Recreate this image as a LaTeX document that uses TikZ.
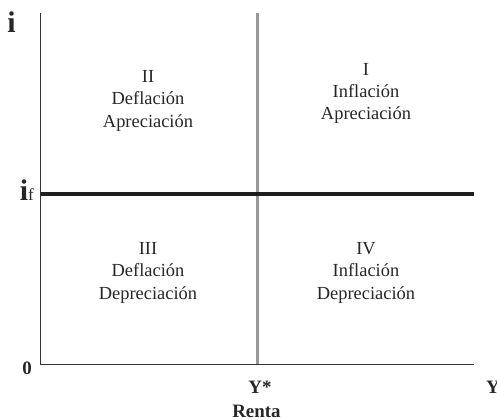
\documentclass[tikz,border=0pt]{standalone}
\usepackage{fontspec}
\setmainfont{Liberation Serif}
\begin{document}
\begin{tikzpicture}[x=1bp,y=-1bp,
  quad/.style={anchor=base,inner sep=0pt,font=\fontsize{18.5}{22}\selectfont,text=black!85},
  lab/.style={inner sep=0pt,font=\fontsize{19}{22}\selectfont\bfseries,text=black!85},
  axis/.style={draw=black!80,line width=1.3bp},
  ystar/.style={draw=black!40,line width=2.7bp},
  ifline/.style={draw=black!88,line width=4bp}]
\useasboundingbox (0,0) rectangle (497,419);
% axes
\coordinate (top) at (40.7,13);
\coordinate (origin) at (40.7,364.5);
\coordinate (xend) at (474,364.5);
\coordinate (vtop) at (257.8,13);
\coordinate (vbot) at (257.8,364.5);
\coordinate (hl) at (40.7,194);
\coordinate (hr) at (474,194);
\draw[ystar] (vtop) -- (vbot);
\draw[ifline] (hl) -- (hr);
\draw[axis] (top) -- (origin) -- (xend);
% axis labels
\node[anchor=base,inner sep=0pt,font=\fontsize{30}{30}\selectfont\bfseries,text=black!85] (i) at (11.5,32) {i};
\node[anchor=base east,inner sep=0pt,text=black!85] (if) at (34,200) {{\fontsize{30}{30}\selectfont\bfseries i}{\fontsize{17}{17}\selectfont f}};
\node[lab,anchor=base] (zero) at (27,374) {0};
\node[lab,anchor=base] (ys) at (260,393) {Y*};
\node[lab,anchor=base west] (y) at (486,393) {Y};
\node[lab,anchor=base] (renta) at (256.5,417.5) {Renta};
% quadrant I
\node[quad] (q1a) at (366,75) {I};
\node[quad] (q1b) at (366,97.5) {Inflación};
\node[quad] (q1c) at (366,119.5) {Apreciación};
% quadrant II
\node[quad] (q2a) at (148,82) {II};
\node[quad] (q2b) at (148,104.5) {Deflación};
\node[quad] (q2c) at (148,127) {Apreciación};
% quadrant III
\node[quad] (q3a) at (148,254) {III};
\node[quad] (q3b) at (148,276.5) {Deflación};
\node[quad] (q3c) at (148,299) {Depreciación};
% quadrant IV
\node[quad] (q4a) at (366,254) {IV};
\node[quad] (q4b) at (366,276.5) {Inflación};
\node[quad] (q4c) at (366,299) {Depreciación};
\end{tikzpicture}
\end{document}
